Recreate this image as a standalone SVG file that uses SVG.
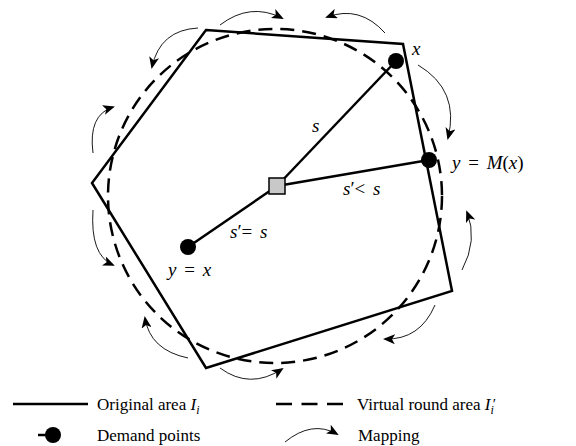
<svg xmlns="http://www.w3.org/2000/svg" width="576" height="446" viewBox="0 0 576 446">
<style>
.poly{fill:none;stroke:#000;stroke-width:2.5;stroke-linejoin:miter}
.dash{fill:none;stroke:#000;stroke-width:2.5;stroke-dasharray:14 8}
.map{fill:none;stroke:#000;stroke-width:0.9;marker-end:url(#ah)}
.lnk{stroke:#000;stroke-width:2.5}
.t{font-family:"Liberation Serif","Times New Roman",serif;font-size:17px;fill:#000}
.lb{font-family:"Liberation Serif","Times New Roman",serif;font-size:19px;fill:#000;font-style:italic;word-spacing:3px}
.i{font-style:italic}
.n{font-style:normal}
</style>
<defs>
<marker id="ah" viewBox="0 0 12 10" refX="10" refY="5" markerWidth="12" markerHeight="10" markerUnits="userSpaceOnUse" orient="auto">
<path d="M0,0 L12,5 L0,10 L3,5 z" fill="#000"/>
</marker>
</defs>
<g id="circle-area"><circle class="dash" cx="275" cy="196" r="167"/></g>
<g id="original-area"><polygon class="poly" points="206,30 403,44 452,291 206,368 92,183"/></g>
<g id="connectors">
<line class="lnk" x1="277" y1="186" x2="396" y2="61"/>
<line class="lnk" x1="277" y1="186" x2="429" y2="160"/>
<line class="lnk" x1="277" y1="186" x2="188" y2="247"/>
<path class="map" d="M220,25 Q250,2 282,18"/>
<path class="map" d="M385,33 Q360,5 327,17"/>
<path class="map" d="M198,28 Q160,30 152,67"/>
<path class="map" d="M93,153 Q88,115 113,107"/>
<path class="map" d="M93,210 Q90,255 113,265"/>
<path class="map" d="M188,358 Q150,350 145,318"/>
<path class="map" d="M220,368 Q250,390 282,369"/>
<path class="map" d="M435,305 Q420,340 385,339"/>
<path class="map" d="M462,270 Q478,240 467,212"/>
<path class="map" d="M418,65 Q460,90 448,138"/>
</g>
<g id="center"><rect x="269" y="178" width="16" height="16" fill="#c8c8c8" stroke="#000" stroke-width="1.5"/></g>
<g id="point-x"><circle cx="396" cy="61" r="8" fill="#000"/><text class="lb" x="412" y="55">x</text></g>
<g id="point-mx"><circle cx="429" cy="160" r="8" fill="#000"/><text class="lb" x="452" y="169">y <tspan class="n">=</tspan> M<tspan class="n">(</tspan>x<tspan class="n">)</tspan></text></g>
<g id="point-y"><circle cx="188" cy="247" r="8" fill="#000"/><text class="lb" x="168" y="276">y <tspan class="n">=</tspan> x</text></g>
<g id="labels">
<text class="lb" x="312" y="132">s</text>
<text class="lb" x="343" y="195">s<tspan class="n">′&lt;</tspan> s</text>
<text class="lb" x="230" y="238">s<tspan class="n">′=</tspan> s</text>
</g>
<g id="legend">
<line x1="13" y1="404" x2="88" y2="404" stroke="#000" stroke-width="2.5"/>
<text class="t" x="97" y="410">Original area <tspan class="i">I</tspan><tspan class="i" font-size="12" dy="4">i</tspan></text>
<line x1="276" y1="404" x2="343" y2="404" stroke="#000" stroke-width="2.5" stroke-dasharray="16 9.5"/>
<text class="t" x="357" y="410">Virtual round area <tspan class="i">I</tspan><tspan class="i" font-size="12" dy="4">i</tspan><tspan font-size="15" dx="-1" dy="-5">′</tspan></text>
<line x1="38" y1="435" x2="48" y2="435" stroke="#000" stroke-width="2.5"/>
<circle cx="53" cy="435" r="8" fill="#000"/>
<text class="t" x="97" y="441">Demand points</text>
<path class="map" d="M285,442 Q312,420 337,434"/>
<text class="t" x="358" y="441">Mapping</text>
</g>
</svg>
